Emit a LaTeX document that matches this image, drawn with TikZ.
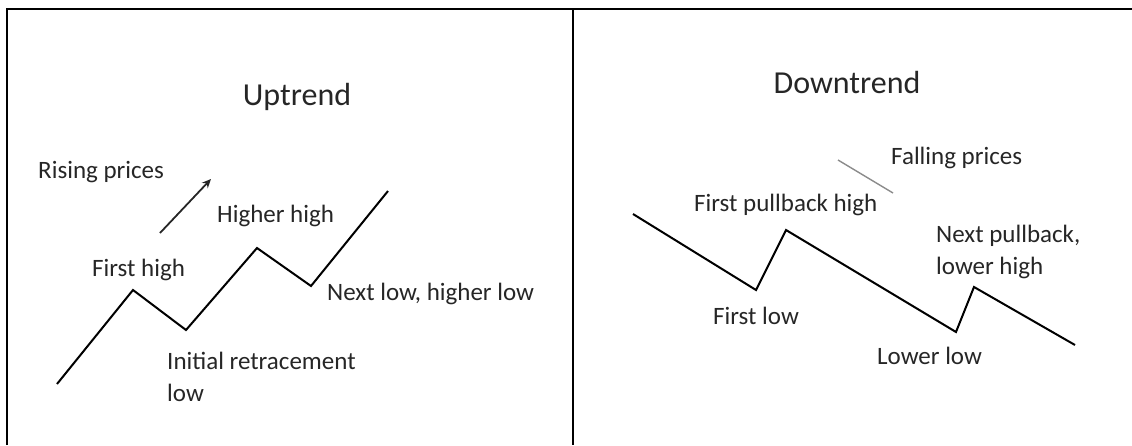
\documentclass[tikz,border=0pt]{standalone}
\usepackage{fontspec}
\setmainfont{Carlito}
\usetikzlibrary{arrows.meta}
\tikzset{
  frame/.style={line width=2pt, black},
  price/.style={line width=2pt, black, line join=miter},
  lbl/.style={anchor=west, inner sep=0pt, font=\fontsize{25}{29}\selectfont, text=black!85},
  ttl/.style={anchor=center, inner sep=0pt, font=\fontsize{32}{37}\selectfont, text=black!85},
  trendarrow/.style={line width=1.8pt, black!85, -{Stealth[length=9pt,width=8pt]}},
  fallline/.style={line width=1.4pt, black!45}
}
\begin{document}
\begin{tikzpicture}[x=1pt,y=-1pt]
\useasboundingbox (0,0) rectangle (1132,445);
% frame
\coordinate (tl) at (7,9);
\coordinate (tr) at (1132,9);
\coordinate (bl) at (7,445);
\coordinate (dt) at (573,9);
\coordinate (db) at (573,445);
\draw[frame] (bl) -- (tl) -- (tr);
\draw[frame] (dt) -- (db);

% ---------- Uptrend ----------
\node[ttl] (uptitle) at (297,97) {Uptrend};
\coordinate (u0) at (57,384);
\coordinate (u1) at (133,290);
\coordinate (u2) at (186,330);
\coordinate (u3) at (257,248);
\coordinate (u4) at (311,286);
\coordinate (u5) at (388,191);
\draw[price] (u0) -- (u1) -- (u2) -- (u3) -- (u4) -- (u5);
\coordinate (ua0) at (160,233);
\coordinate (ua1) at (211,179);
\draw[trendarrow] (ua0) -- (ua1);
\node[lbl] (rising) at (38,172) {Rising prices};
\node[lbl] (firsthigh) at (92,270) {First high};
\node[lbl] (higherhigh) at (217,216) {Higher high};
\node[lbl] (nextlow) at (327,294) {Next low, higher low};
\node[lbl] (initial) at (167,361) {Initial retracement};
\node[lbl] (initlow) at (167,393) {low};

% ---------- Downtrend ----------
\node[ttl] (downtitle) at (847,83) {Downtrend};
\coordinate (d0) at (633,214);
\coordinate (d1) at (756,290);
\coordinate (d2) at (786,230);
\coordinate (d3) at (956,332);
\coordinate (d4) at (974,287);
\coordinate (d5) at (1075,345);
\draw[price] (d0) -- (d1) -- (d2) -- (d3) -- (d4) -- (d5);
\coordinate (da0) at (838,160);
\coordinate (da1) at (893,193);
\draw[fallline] (da0) -- (da1);
\node[lbl] (falling) at (891,158) {Falling prices};
\node[lbl] (pullhigh) at (694,205) {First pullback high};
\node[lbl] (firstlow) at (713,316) {First low};
\node[lbl] (lowerlow) at (877,356) {Lower low};
\node[lbl] (nextpull) at (936,236) {Next pullback,};
\node[lbl] (lowerhigh) at (936,268) {lower high};
\end{tikzpicture}
\end{document}
